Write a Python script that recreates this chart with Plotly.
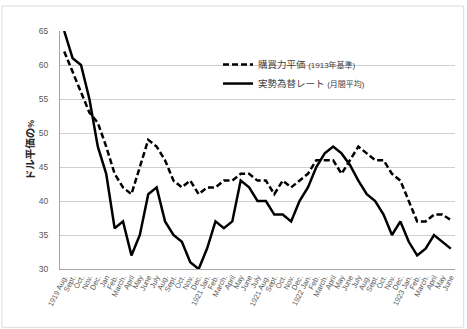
import plotly.graph_objects as go

months = ["1919 Aug.", "Sept.", "Oct.", "Nov.", "Dec.", "Jan", "Feb.", "March.", "April", "May", "June", "July",
          "Aug.", "Sept.", "Oct.", "Nov.", "Dec.", "1921 Jan.", "Feb.", "March.", "April", "May", "June", "July",
          "1921 Aug.", "Sept.", "Oct.", "Nov.", "Dec.", "1922 Jan.", "Feb.", "March.", "April", "May", "June", "July",
          "Aug.", "Sept.", "Oct.", "Nov.", "Dec.", "1923 Jan.", "Feb.", "March.", "April", "May", "June"]

ppp = [62, 59, 56, 53, 51.5, 48, 44, 42, 41, 45, 49, 48,
       46, 43, 42, 43, 41, 42, 42, 43, 43, 44, 44, 43,
       43, 41, 43, 42, 43, 44, 46, 46, 46, 44, 46, 48,
       47, 46, 46, 44, 43, 40, 37, 37, 38, 38, 37.2]

actual = [65, 61, 60, 55, 48, 44, 36, 37, 32, 35, 41, 42,
          37, 35, 34, 31, 30, 33, 37, 36, 37, 43, 42, 40,
          40, 38, 38, 37, 40, 42, 45, 47, 48, 47, 45.3, 43,
          41, 40, 38, 35, 37, 34, 32, 33, 35, 34, 33]

y_ticks = [30, 35, 40, 45, 50, 55, 60, 65]

name_ppp = "購買力平価 <span style='font-size:8px'>(1913年基準)</span>"
name_act = "実勢為替レート <span style='font-size:8px'>(月間平均)</span>"

xs = list(range(len(months)))

fig = go.Figure()
fig.add_trace(go.Scatter(x=xs, y=ppp, mode="lines", name=name_ppp,
                         line=dict(color="black", width=2.5, dash="6px,3px")))
fig.add_trace(go.Scatter(x=xs, y=actual, mode="lines", name=name_act,
                         line=dict(color="black", width=2.5)))

font_family = "Liberation Sans, Noto Sans CJK JP, sans-serif"

fig.update_layout(
    width=467, height=329,
    margin=dict(l=60, r=12, t=31, b=60),
    paper_bgcolor="white", plot_bgcolor="white",
    font=dict(family=font_family, color="#595959", size=9),
    showlegend=True,
    legend=dict(x=0.40, y=0.92, xanchor="left", yanchor="top",
                bgcolor="rgba(0,0,0,0)", font=dict(size=9.5, color="#404040"),
                tracegroupgap=0, itemwidth=30),
    xaxis=dict(range=[-0.5, len(months) - 0.5], tickmode="array", tickvals=xs, ticktext=months,
               tickangle=-63, showgrid=False, showline=True, linecolor="#a6a6a6", linewidth=1,
               ticks="", tickfont=dict(size=7.5, color="#595959"), zeroline=False),
    yaxis=dict(range=[30, 65], tickmode="array", tickvals=y_ticks, showgrid=True,
               gridcolor="#d0d0d0", gridwidth=1, showline=True, linecolor="#a6a6a6", linewidth=1,
               ticks="", tickfont=dict(size=8.5, color="#595959"), zeroline=False, ticklabelstandoff=9),
    annotations=[dict(text="<b>ドル平価の<span style='font-size:8px'>%</span></b>", xref="paper", yref="paper",
                      x=-0.078, y=0.5, xanchor="center", textangle=-90, showarrow=False,
                      font=dict(size=10.5, color="#262626", family="Noto Sans CJK JP"))],
    shapes=[dict(type="rect", xref="paper", yref="paper", x0=-0.147, x1=1.022, y0=-0.245, y1=1.105,
                 line=dict(color="#dcdcdc", width=1))],
)

fig.write_html("out.html")
